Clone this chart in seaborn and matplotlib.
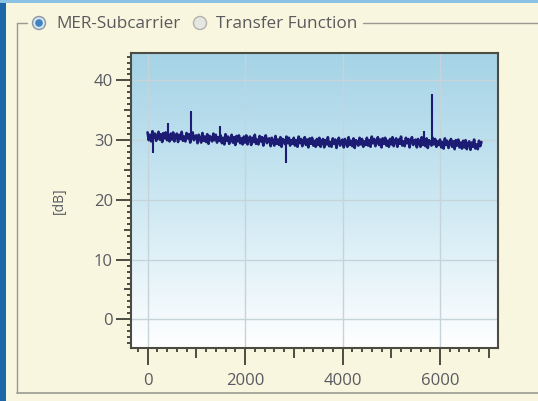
import numpy as np
import pandas as pd
import seaborn as sns
import matplotlib.pyplot as plt
from matplotlib.patches import Rectangle, Circle
from matplotlib.lines import Line2D
from matplotlib.ticker import MultipleLocator
from matplotlib.colors import LinearSegmentedColormap
from matplotlib.transforms import IdentityTransform


# MER per subcarrier, one reading every 25 subcarriers
subcarrier_step = 25
mer_db = [
    31.3, 30.0, 30.9, 29.8, 31.5, 30.4, 31.1, 29.9, 30.7, 31.4, 30.1, 31.0, 29.7, 31.2, 30.3, 31.3, 30.0, 30.8, 29.8, 31.1,
    30.1, 31.3, 29.8, 30.7, 31.1, 29.7, 30.9, 30.2, 31.4, 29.9, 30.6, 29.8, 31.2, 30.3, 31.0, 29.6, 30.8, 31.3, 30.0, 30.7,
    30.8, 29.5, 30.9, 30.2, 29.6, 31.2, 29.9, 30.6, 29.7, 31.0, 29.4, 30.7, 30.4, 29.8, 31.1, 30.0, 30.9, 29.6, 30.5, 29.9,
    30.8, 29.5, 30.4, 29.3, 31.0, 29.9, 30.6, 29.4, 30.2, 30.9, 29.6, 30.5, 29.2, 30.7, 29.8, 30.8, 29.5, 30.3, 29.3, 30.6,
    29.6, 30.8, 29.3, 30.2, 30.6, 29.2, 30.4, 29.7, 30.9, 29.4, 30.1, 29.3, 30.7, 29.8, 30.5, 29.1, 30.3, 30.8, 29.5, 30.2,
    30.3, 29.0, 30.4, 29.7, 29.1, 30.7, 29.4, 30.1, 29.2, 30.5, 28.9, 30.2, 29.9, 29.3, 30.6, 29.5, 30.4, 29.1, 30.0, 29.4,
    30.4, 29.1, 30.0, 28.9, 30.6, 29.5, 30.2, 29.0, 29.8, 30.5, 29.2, 30.1, 28.8, 30.3, 29.4, 30.4, 29.1, 29.9, 28.9, 30.2,
    29.2, 30.4, 28.9, 29.8, 30.2, 28.8, 30.0, 29.3, 30.5, 29.0, 29.7, 28.9, 30.3, 29.4, 30.1, 28.7, 29.9, 30.4, 29.1, 29.8,
    30.1, 28.8, 30.2, 29.5, 28.9, 30.5, 29.2, 29.9, 29.0, 30.3, 28.7, 30.0, 29.7, 29.1, 30.4, 29.3, 30.2, 28.9, 29.8, 29.2,
    30.4, 29.1, 30.0, 28.9, 30.6, 29.5, 30.2, 29.0, 29.8, 30.5, 29.2, 30.1, 28.8, 30.3, 29.4, 30.4, 29.1, 29.9, 28.9, 30.2,
    29.3, 30.5, 29.0, 29.9, 30.3, 28.9, 30.1, 29.4, 30.6, 29.1, 29.8, 29.0, 30.4, 29.5, 30.2, 28.8, 30.0, 30.5, 29.2, 29.9,
    30.1, 28.8, 30.2, 29.5, 28.9, 30.5, 29.2, 29.9, 29.0, 30.3, 28.7, 30.0, 29.7, 29.1, 30.4, 29.3, 30.2, 28.9, 29.8, 29.2,
    30.1, 28.8, 29.7, 28.6, 30.3, 29.2, 29.9, 28.7, 29.5, 30.2, 28.9, 29.8, 28.5, 30.0, 29.1, 30.1, 28.8, 29.6, 28.6, 29.9,
    28.8, 30.0, 28.5, 29.4, 29.8, 28.4, 29.6, 28.9, 30.1, 28.6, 29.3, 28.5, 29.9, 29.0, 29.7,
]
subcarrier = np.arange(len(mer_db)) * subcarrier_step

# single-subcarrier spikes / dips
spike_x = [110, 420, 890, 1480, 2830, 5670, 5840]
spike_base = [30.4, 30.5, 30.4, 30.2, 29.5, 29.6, 29.6]
spike_peak = [27.9, 32.8, 34.9, 32.4, 26.2, 31.5, 37.8]

x_labels = [0, 2000, 4000, 6000]
y_labels = [0, 10, 20, 30, 40]
radio_labels = ['MER-Subcarrier', 'Transfer Function']

df = pd.DataFrame({'subcarrier': subcarrier, 'mer': mer_db})

sns.set_style('white')
plt.rcParams['font.family'] = ['Open Sans', 'DejaVu Sans']

W, H = 538, 401
fig = plt.figure(figsize=(W / 100, H / 100), dpi=100)
fig.patch.set_facecolor('#f8f6de')


def fx(x):
    return x / W


def fy(y):
    return 1 - y / H


# window frame and group box
fig.add_artist(Rectangle((0, 0), fx(6), 1, color='#1b67a8', lw=0))
fig.add_artist(Rectangle((0, fy(3)), 1, fy(0) - fy(3), color='#8cc3e4', lw=0))
box = '#9a9a92'
fig.add_artist(Line2D([fx(17), fx(17)], [fy(23), fy(393)], color=box, lw=1))
fig.add_artist(Line2D([fx(17), fx(538)], [fy(393), fy(393)], color=box, lw=1.2))
fig.add_artist(Line2D([fx(17), fx(27)], [fy(23), fy(23)], color=box, lw=1))
fig.add_artist(Line2D([fx(363), fx(538)], [fy(23), fy(23)], color=box, lw=1))

# radio buttons
fig.add_artist(Circle((39, H - 23), 6.5, transform=IdentityTransform(),
                      facecolor='#d8e4ee', edgecolor='#8a98a6', lw=1))
fig.add_artist(Circle((39, H - 23), 3.8, transform=IdentityTransform(),
                      facecolor='#3f82c4', edgecolor='none'))
fig.add_artist(Circle((200, H - 23), 6.5, transform=IdentityTransform(),
                      facecolor='#e6e6e2', edgecolor='#b4b4ae', lw=1))
fig.text(fx(56), fy(24), radio_labels[0], fontsize=12.3, color='#5a5a5e', va='center')
fig.text(fx(216), fy(24), radio_labels[1], fontsize=12.3, color='#5a5a5e', va='center')

ax = fig.add_axes([fx(131), fy(348), fx(498) - fx(131), fy(53) - fy(348)])

# light blue -> white backdrop
grad = np.linspace(0, 1, 256).reshape(-1, 1)
cmap = LinearSegmentedColormap.from_list('bg', ['#a5d3e6', '#cde8f3', '#ffffff'])
ax.imshow(grad, aspect='auto', cmap=cmap, extent=[0, 1, 0, 1],
          transform=ax.transAxes, zorder=0)

sns.lineplot(data=df, x='subcarrier', y='mer', color='#1c1c74', lw=1.9, ax=ax, zorder=3)
ax.vlines(spike_x, spike_base, spike_peak, color='#1c1c74', lw=1.5, zorder=3)

ax.set_xlim(-340, 7190)
ax.set_ylim(-4.8, 44.6)

# ticks: labelled majors, unlabelled mid ticks, fine minors
ax.xaxis.set_major_locator(MultipleLocator(1000))
ax.xaxis.set_minor_locator(MultipleLocator(200))
ax.yaxis.set_major_locator(MultipleLocator(5))
ax.yaxis.set_minor_locator(MultipleLocator(1))
ax.xaxis.set_major_formatter(lambda v, p: f'{v:.0f}' if round(v) in x_labels else '')
ax.yaxis.set_major_formatter(lambda v, p: f'{v:.0f}' if round(v) in y_labels else '')

tick_col = '#4c4c42'
ax.tick_params(axis='both', which='both', direction='out', color=tick_col, width=1.4,
               labelcolor='#5a5a62', labelsize=12, bottom=True, left=True)
ax.tick_params(axis='x', which='major', length=12, pad=6)
ax.tick_params(axis='y', which='major', length=11, pad=2)
ax.tick_params(axis='both', which='minor', length=3)

ax.grid(True, which='major', color='#c6d4da', lw=1)
fig.canvas.draw()
for t in ax.xaxis.get_major_ticks():
    if round(t.get_loc()) not in x_labels:
        t.tick1line.set_markersize(7.5)
        t.gridline.set_visible(False)
for t in ax.yaxis.get_major_ticks():
    if round(t.get_loc()) not in y_labels:
        t.tick1line.set_markersize(5)
        t.gridline.set_visible(False)

for s in ax.spines.values():
    s.set_color(tick_col)
    s.set_linewidth(1.5)

ax.set_xlabel('')
ax.set_ylabel('[dB]', fontsize=10, color='#5a5a62')
ax.yaxis.set_label_coords((67 - 131) / 367, 0.5)

plt.savefig('out.png', dpi=100, facecolor=fig.get_facecolor())
